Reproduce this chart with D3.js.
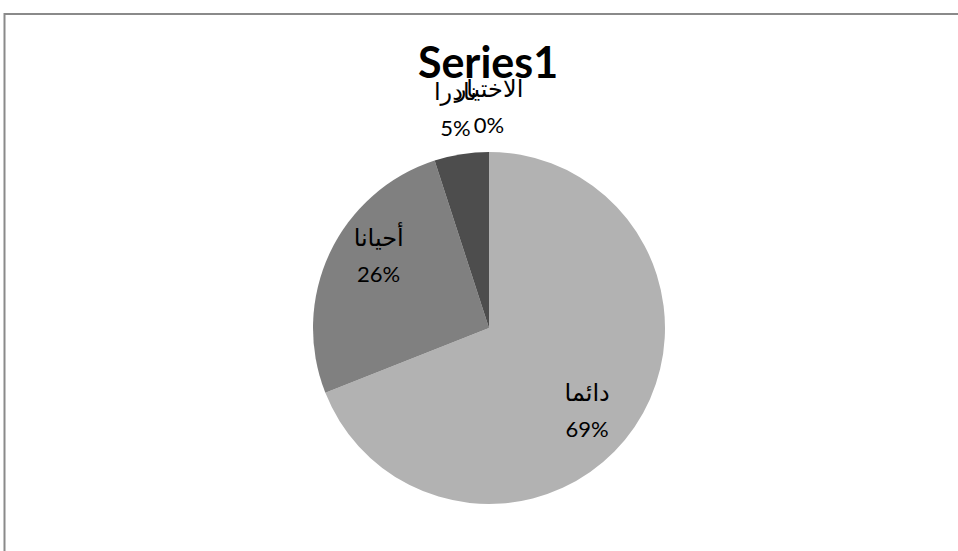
<!DOCTYPE html>
<html>
<head>
<meta charset="utf-8">
<script src="https://cdn.jsdelivr.net/npm/d3@7/dist/d3.min.js"></script>
<style>
  html, body { margin: 0; padding: 0; background: #fff; }
  svg { display: block; }
  text { font-family: Lato, "DejaVu Sans", sans-serif; }
</style>
</head>
<body>
<svg id="chart" width="958" height="551"></svg>
<script>
// Survey answers and their share of responses (percent)
const categories = ["دائما", "أحيانا", "نادرا", "الاختيار"];
const values = [69, 26, 5, 0];
const sliceColors = ["#b2b2b2", "#808080", "#4d4d4d", "#3a3a3a"];
const chartTitle = "Series1";

const svg = d3.select("#chart");

// chart area frame (runs off the right and bottom edges)
svg.append("rect")
  .attr("x", 4.5).attr("y", 14)
  .attr("width", 1000).attr("height", 600)
  .attr("fill", "#fff")
  .attr("stroke", "#8a8a8a")
  .attr("stroke-width", 2);

svg.append("text")
  .attr("x", 488).attr("y", 78)
  .attr("text-anchor", "middle")
  .attr("font-weight", "bold")
  .attr("font-size", 43)
  .attr("fill", "#000")
  .text(chartTitle);

const cx = 489, cy = 328, r = 176;
const data = categories.map((c, i) => ({ name: c, value: values[i], color: sliceColors[i] }));

const pie = d3.pie().sort(null).value(d => d.value);
const arcs = pie(data);
const arc = d3.arc().innerRadius(0).outerRadius(r);

const g = svg.append("g").attr("transform", `translate(${cx},${cy})`);

g.selectAll("path")
  .data(arcs.filter(a => a.data.value > 0))
  .join("path")
  .attr("d", arc)
  .attr("fill", d => d.data.color);

// label placement: large slices inside, thin slices pushed outside the rim
const pct = d3.format(".0%");
const total = d3.sum(values);

arcs.forEach(a => {
  const mid = (a.startAngle + a.endAngle) / 2;
  const share = a.endAngle - a.startAngle;
  const inside = share > 0.5;
  const lr = inside ? r * 0.74 : r * 1.22;
  const ang = inside ? mid + 0.12 : mid;
  const x = Math.sin(ang) * lr;
  const y = -Math.cos(ang) * lr + (inside ? 3 : 0);
  const t = g.append("text")
    .attr("text-anchor", "middle")
    .attr("fill", "#000");
  t.append("tspan").attr("x", x).attr("y", y - 16)
    .attr("font-size", 24).text(a.data.name);
  t.append("tspan").attr("x", x).attr("y", y + 20)
    .attr("font-size", 22).text(pct(a.data.value / total));
});
</script>
</body>
</html>
